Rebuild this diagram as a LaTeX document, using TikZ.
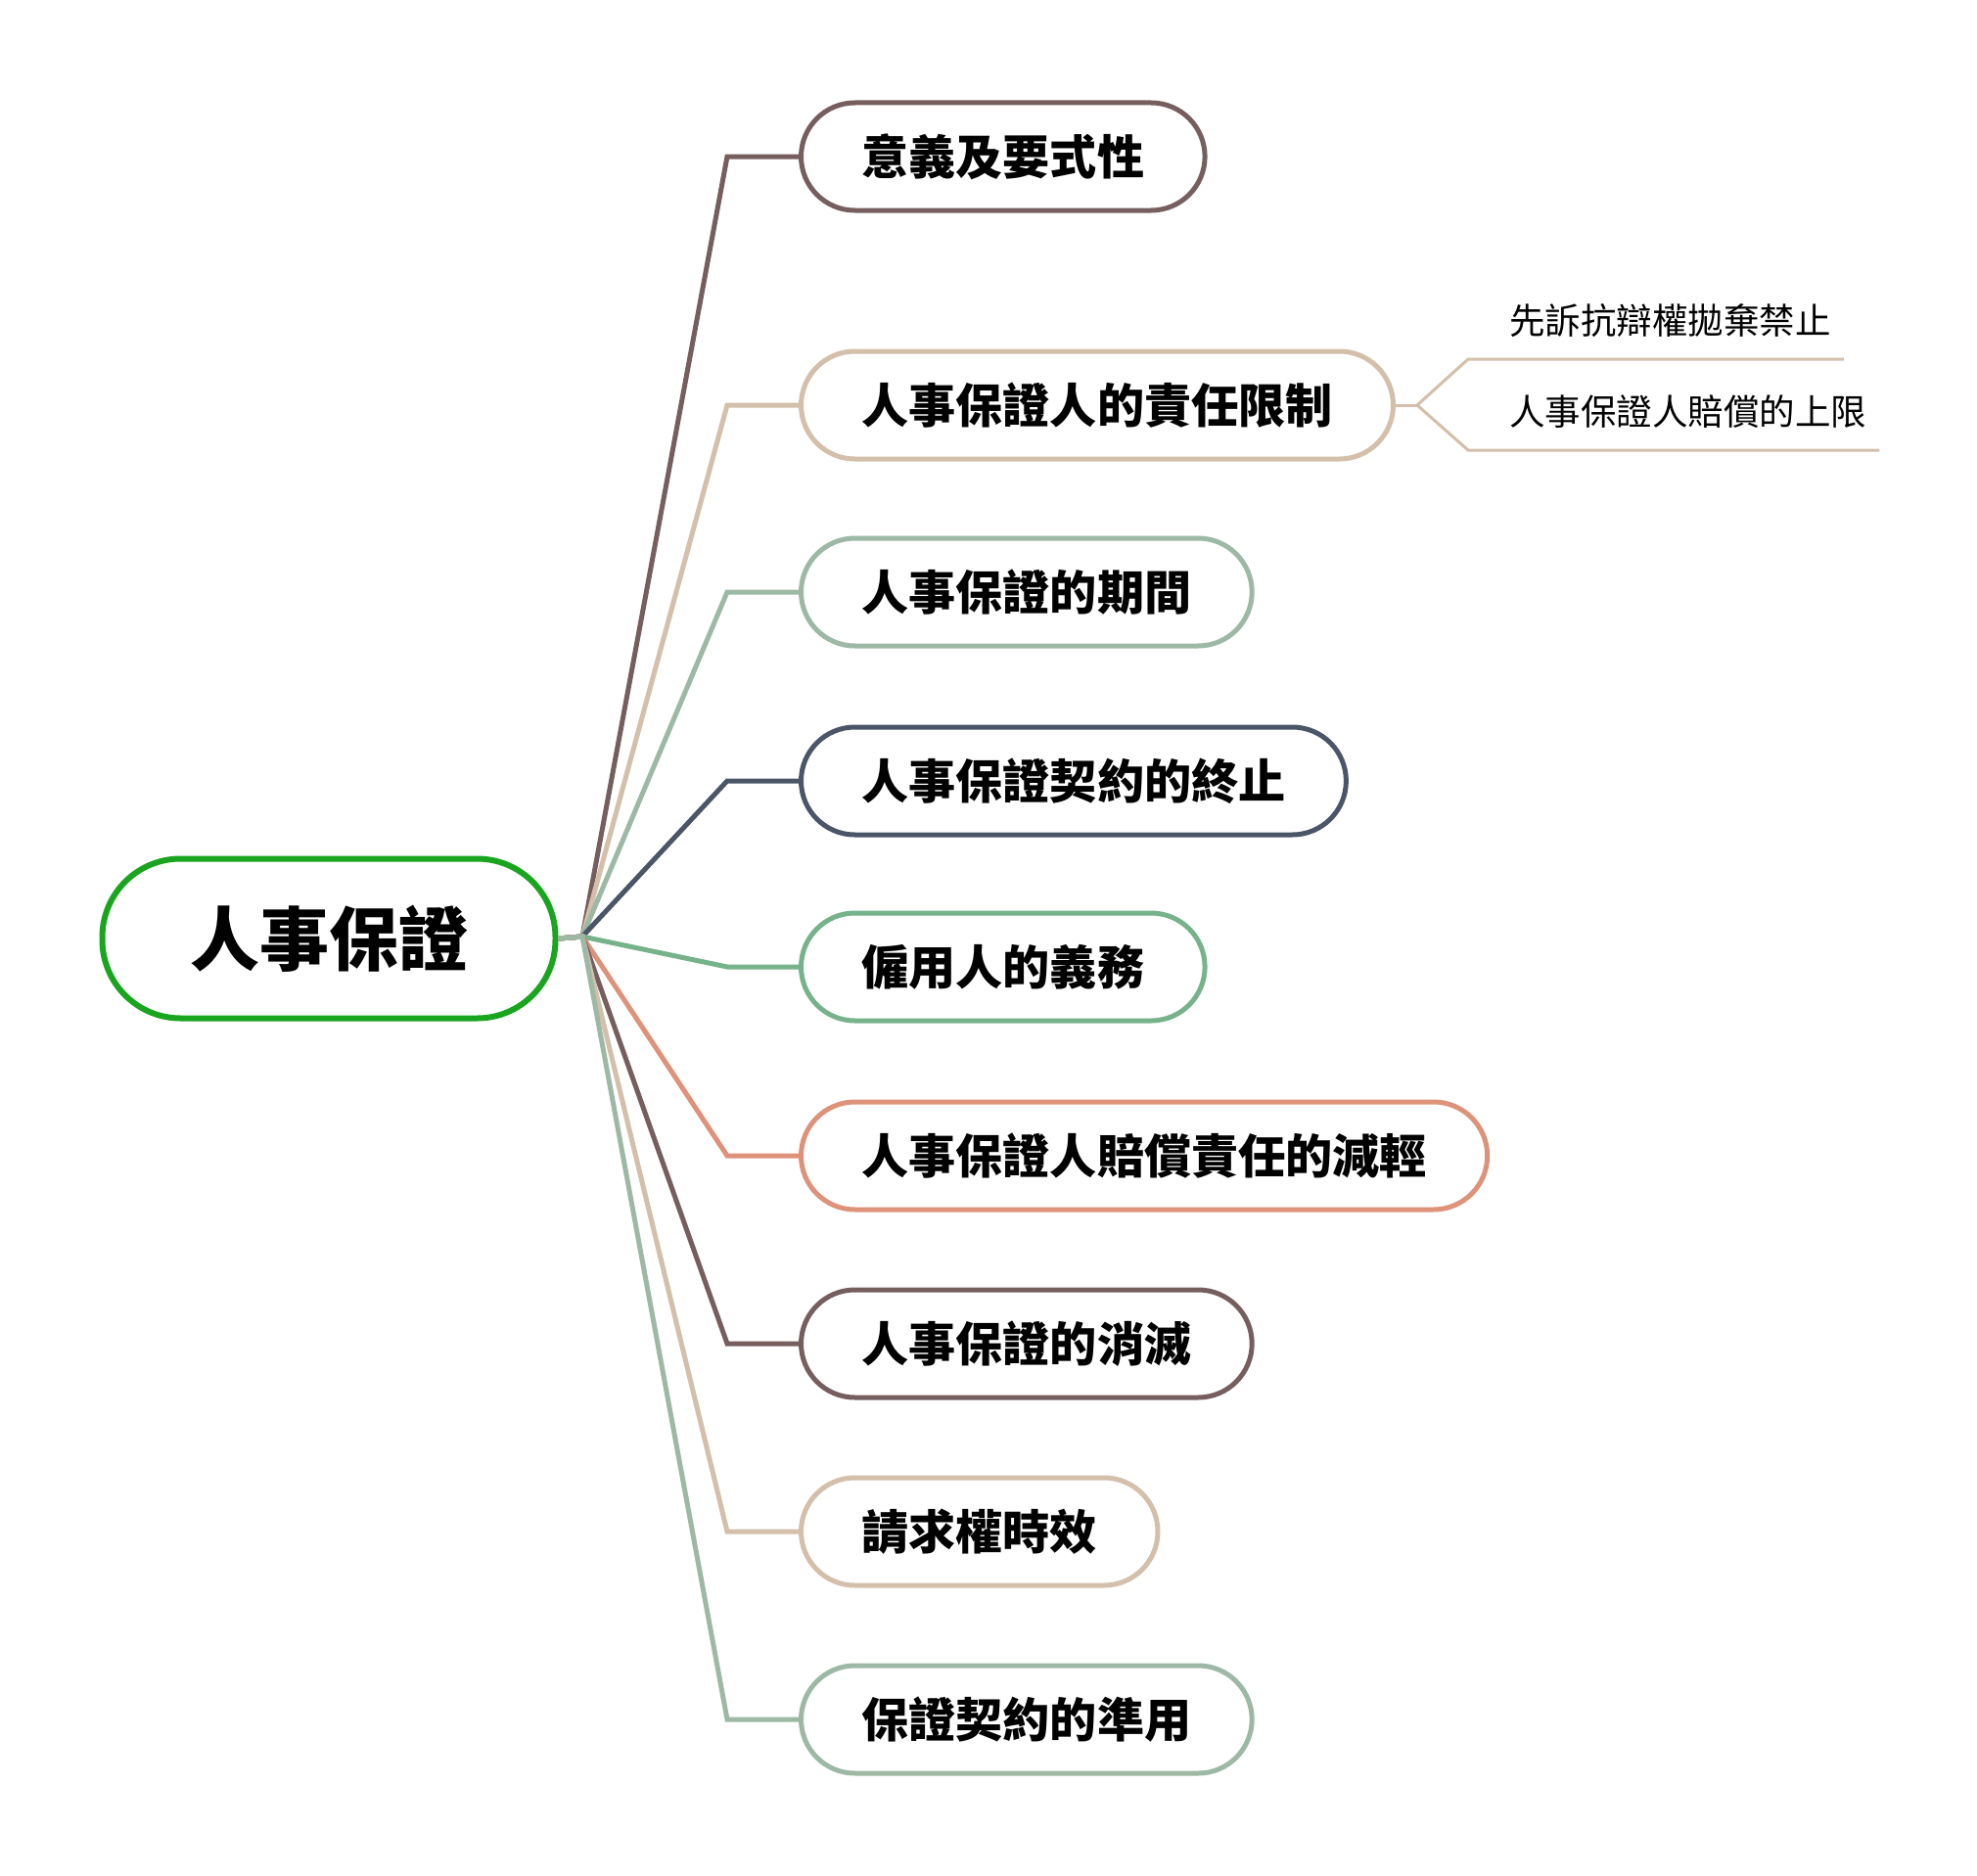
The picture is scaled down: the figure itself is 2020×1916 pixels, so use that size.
\documentclass[tikz,border=0pt]{standalone}
\usepackage{fontspec}
\newfontfamily\cjk{Noto Sans CJK TC}
\usetikzlibrary{calc}
\definecolor{cbrown}{HTML}{765E5E}
\definecolor{cbeige}{HTML}{D3BFAA}
\definecolor{csage}{HTML}{9DB9A5}
\definecolor{cslate}{HTML}{4A5667}
\definecolor{cgreen}{HTML}{76B38A}
\definecolor{csalmon}{HTML}{DE927A}
\definecolor{cmain}{HTML}{1AA51F}
\begin{document}
\begin{tikzpicture}[x=1pt,y=-1pt,
  topic/.style={draw, line width=5pt, rounded corners=55pt, fill=white,
    minimum height=110pt, inner xsep=62pt, inner ysep=0pt, anchor=west,
    font=\cjk\bfseries\fontsize{48.1}{56}\selectfont, text height=40pt, text depth=3.4pt},
  central/.style={draw=cmain, line width=6pt, rounded corners=80pt, fill=white,
    minimum width=463pt, minimum height=163pt, inner sep=0pt,
    font=\cjk\bfseries\fontsize{71}{80}\selectfont, text height=59pt, text depth=5pt},
  branch/.style={line width=5pt},
  subline/.style={draw=cbeige, line width=3pt},
  subtext/.style={anchor=west, inner sep=0pt,
    font=\cjk\fontsize{36.5}{42}\selectfont, text height=30.3pt, text depth=2.5pt}]
\useasboundingbox (0,0) rectangle (2020,1916);
\coordinate (hub) at (595,957);
\coordinate (elb) at (743,0);
\node[central] (main) at (336,959) {人事保證};
\node[topic, draw=cbrown]  (n1) at (816,160)  {意義及要式性};
\node[topic, draw=cbeige]  (n2) at (816,414)  {人事保證人的責任限制};
\node[topic, draw=csage]   (n3) at (816,605)  {人事保證的期間};
\node[topic, draw=cslate]  (n4) at (816,798)  {人事保證契約的終止};
\node[topic, draw=cgreen]  (n5) at (816,988)  {僱用人的義務};
\node[topic, draw=csalmon] (n6) at (816,1181) {人事保證人賠償責任的減輕};
\node[topic, draw=cbrown]  (n7) at (816,1373) {人事保證的消滅};
\node[topic, draw=cbeige]  (n8) at (816,1565) {請求權時效};
\node[topic, draw=csage]   (n9) at (816,1757) {保證契約的準用};
\draw[branch, cbrown]  (main.east) -- (hub) -- (n1.west -| elb) -- (n1.west);
\draw[branch, cbeige]  (main.east) -- (hub) -- (n2.west -| elb) -- (n2.west);
\draw[branch, csage]   (main.east) -- (hub) -- (n3.west -| elb) -- (n3.west);
\draw[branch, cslate]  (main.east) -- (hub) -- (n4.west -| elb) -- (n4.west);
\draw[branch, cgreen]  (main.east) -- (hub) -- (n5.west -| elb) -- (n5.west);
\draw[branch, csalmon] (main.east) -- (hub) -- (n6.west -| elb) -- (n6.west);
\draw[branch, cbrown]  (main.east) -- (hub) -- (n7.west -| elb) -- (n7.west);
\draw[branch, cbeige]  (main.east) -- (hub) -- (n8.west -| elb) -- (n8.west);
\draw[branch, csage]   (main.east) -- (hub) -- (n9.west -| elb) -- (n9.west);
\node[subtext] (s1) at (1542,328) {先訴抗辯權拋棄禁止};
\node[subtext] (s2) at (1542,421) {人事保證人賠償的上限};
\coordinate (j) at (1448,414);
\coordinate (s1l) at (1500,367);
\coordinate (s2l) at (1500,460);
\draw[subline] (n2.east) -- (j);
\draw[subline] (j) -- (s1l) -- ($(s1l -| s1.east)+(13,0)$);
\draw[subline] (j) -- (s2l) -- ($(s2l -| s2.east)+(13,0)$);
\end{tikzpicture}
\end{document}
